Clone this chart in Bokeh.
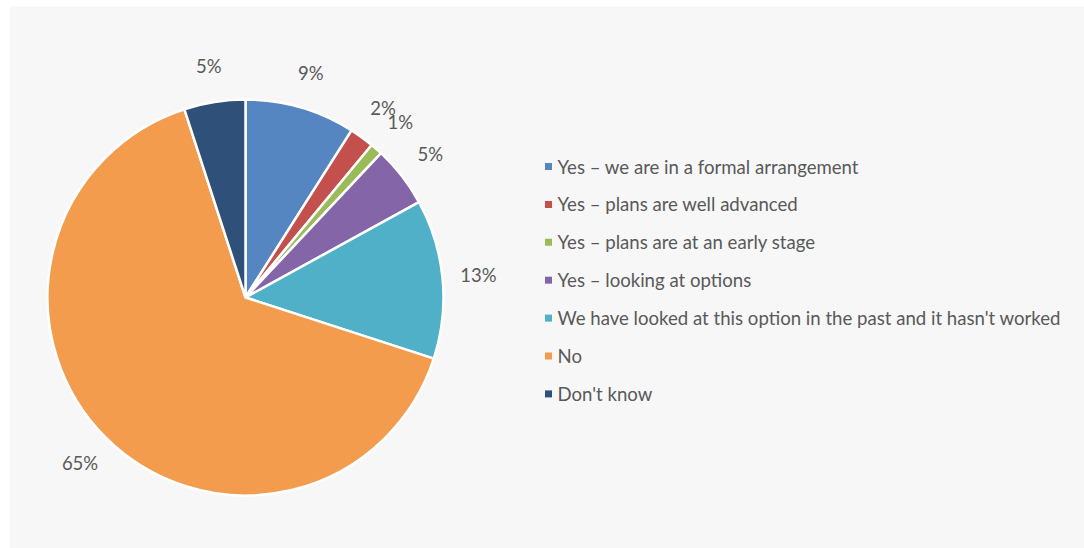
import math
from bokeh.plotting import figure
from bokeh.models import ColumnDataSource, Range1d
from bokeh.core.properties import value
from bokeh.embed import file_html
from bokeh.resources import INLINE

categories = [
    "Yes \u2013 we are in a formal arrangement",
    "Yes \u2013 plans are well advanced",
    "Yes \u2013 plans are at an early stage",
    "Yes \u2013 looking at options",
    "We have looked at this option in the past and it hasn't worked",
    "No",
    "Don't know",
]
percentages = [9, 2, 1, 5, 13, 65, 5]
colors = ["#5586c1", "#c4504d", "#9bbb59", "#8466a8", "#4fb0c8", "#f39c4e", "#2f5179"]

W, H = 1075, 542
FONT = "Lato"
TXT = "#595959"

p = figure(width=W, height=H, output_backend="svg", toolbar_location=None,
           x_range=Range1d(0, W), y_range=Range1d(0, H),
           min_border=0, margin=(6, 0, 0, 9))
p.background_fill_color = "#f7f7f7"
p.border_fill_color = "#f7f7f7"
p.outline_line_color = None
p.axis.visible = False
p.grid.visible = False

cx, cy, R = 236, 251, 198
total = float(sum(percentages))
starts, ends, lx, ly = [], [], [], []
cum = 0.0
for v in percentages:
    a0 = math.pi / 2 - cum / total * 2 * math.pi
    cum += v
    a1 = math.pi / 2 - cum / total * 2 * math.pi
    starts.append(a0)
    ends.append(a1)
    mid = (a0 + a1) / 2
    lx.append(cx + 234 * math.cos(mid))
    ly.append(cy + 234 * math.sin(mid))

src = ColumnDataSource(dict(start=starts, end=ends, color=colors,
                            lx=lx, ly=ly, lab=[f"{v}%" for v in percentages]))
p.wedge(x=cx, y=cy, radius=R, start_angle="start", end_angle="end",
        direction="clock", fill_color="color", line_color="white",
        line_width=2.5, source=src)
p.text(x="lx", y="ly", text="lab", source=src, text_font=value(FONT),
       text_font_size="18.5px", text_color=TXT, text_align="center",
       text_baseline="middle")

# legend
top = 382
step = 37.9
leg_y = [top - i * step for i in range(len(categories))]
leg = ColumnDataSource(dict(y=leg_y, color=colors, label=categories))
p.scatter(x=539, y="y", marker="square", size=7, fill_color="color",
          line_color=None, source=leg)
p.text(x=548, y="y", text="label", source=leg, text_font=value(FONT),
       text_font_size="18.6px", text_color=TXT, text_align="left",
       text_baseline="middle")

open("out.html", "w").write(file_html(p, INLINE))
